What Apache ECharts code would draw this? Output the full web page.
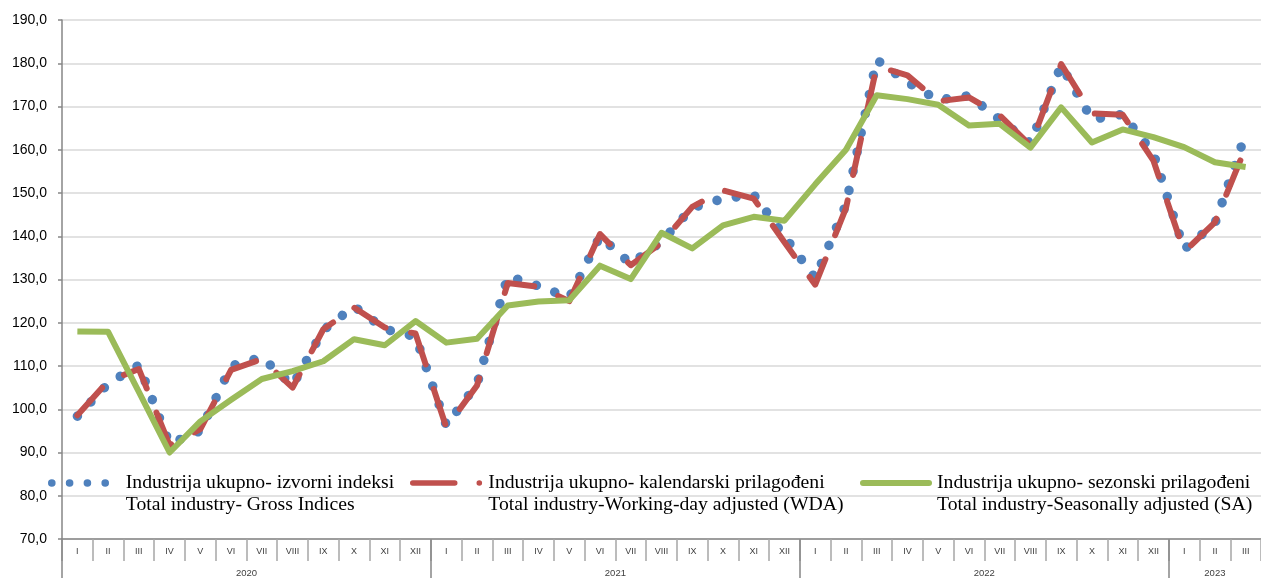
<!DOCTYPE html>
<html>
<head>
<meta charset="utf-8">
<script src="https://cdn.jsdelivr.net/npm/echarts@6/dist/echarts.min.js"></script>
<style>
  html, body { margin: 0; padding: 0; background: #fff; }
  #line { width: 1261px; height: 578px; }
</style>
</head>
<body>
<div id="line"></div>
<script>
// mjeseci 2020 I - 2023 III
const months = ['I','II','III','IV','V','VI','VII','VIII','IX','X','XI','XII',
  'I','II','III','IV','V','VI','VII','VIII','IX','X','XI','XII',
  'I','II','III','IV','V','VI','VII','VIII','IX','X','XI','XII',
  'I','II','III']
const years = ['2020', '2021', '2022', '2023']
const yearStart = [0, 12, 24, 36]       // indeks prvog mjeseca u godini
const yearMid = [6, 18, 30, 37.5]       // sredina godine na osi

const gross = [98.4, 105.9, 110.2, 92.0, 95.0, 110.0, 112.0, 105.5, 118.3, 123.8, 118.5, 116.8,
  96.3, 105.8, 130.8, 128.5, 125.8, 140.0, 133.6, 138.8, 146.6, 148.7, 149.6, 140.0,
  130.3, 147.3, 180.8, 175.6, 171.5, 172.5, 167.0, 161.5, 179.5, 167.0, 168.2, 159.2,
  137.0, 142.9, 163.7]
const wda = [98.6, 106.5, 109.3, 91.7, 95.4, 109.1, 111.6, 105.0, 118.5, 123.5, 118.9, 117.5,
  95.8, 105.5, 129.2, 128.3, 125.0, 140.5, 133.3, 138.5, 146.8, 150.6, 148.7, 138.6,
  128.8, 146.5, 179.3, 177.2, 171.2, 172.1, 168.0, 161.0, 179.8, 168.4, 168.1, 157.5,
  136.4, 143.2, 160.5]
const sa = [118.0, 117.9, 104.0, 90.0, 97.2, 102.2, 107.0, 108.8, 111.1, 116.2, 114.8, 120.4,
  115.4, 116.3, 124.0, 124.9, 125.2, 133.2, 130.1, 140.8, 137.2, 142.5, 144.5, 143.6,
  152.0, 160.0, 172.6, 171.7, 170.4, 165.6, 166.0, 160.5, 169.8, 161.7, 164.7, 162.9,
  160.6, 157.1, 156.0]

const names = [
  'Industrija ukupno- izvorni indeksi\nTotal industry- Gross Indices',
  'Industrija ukupno- kalendarski prilagođeni\nTotal industry-Working-day adjusted (WDA)',
  'Industrija ukupno- sezonski prilagođeni\nTotal industry-Seasonally adjusted (SA)'
]

const legendTop = 450

function legendText(padLeft) {
  return {
    fontFamily: 'Liberation Serif',
    fontSize: 19.7,
    lineHeight: 22,
    color: '#000',
    padding: [0, 0, 0, padLeft]
  }
}

// prazan red na vrhu da ikona stoji uz prvi red teksta
function legendName(name) {
  return '\n' + name
}

const option = {
  animation: false,
  grid: { left: 62, top: 20, width: 1209, height: 520 },
  legend: [
    {
      left: 48, top: legendTop, padding: 0, itemWidth: 54, itemHeight: 10,
      formatter: legendName,
      data: [{ name: names[0], itemStyle: { opacity: 0 }, lineStyle: { width: 7.5, type: [0.1, 17.7], cap: 'round' } }],
      textStyle: legendText(15)
    },
    {
      left: 410, top: legendTop, padding: 0, itemWidth: 66.6, itemHeight: 10,
      formatter: legendName,
      data: [{ name: names[1], itemStyle: { opacity: 0 }, lineStyle: { width: 5.5, type: [42, 24.5, 0.1, 50], cap: 'round' } }],
      textStyle: legendText(4)
    },
    {
      left: 860, top: legendTop, padding: 0, itemWidth: 66, itemHeight: 10,
      formatter: legendName,
      data: [{ name: names[2], itemStyle: { opacity: 0 }, lineStyle: { width: 6, type: 'solid', cap: 'round' } }],
      textStyle: legendText(3)
    }
  ],
  xAxis: [
    {
      type: 'category',
      data: months,
      boundaryGap: true,
      position: 'bottom',
      axisLine: { lineStyle: { color: '#868686', width: 1.5 } },
      axisTick: { show: true, interval: 0, length: 22, lineStyle: { color: '#a6a6a6', width: 1.5 } },
      axisLabel: { interval: 0, margin: 8, fontSize: 9, color: '#404040', fontFamily: 'Liberation Sans' }
    },
    {
      type: 'value',
      min: 0,
      max: 39,
      position: 'bottom',
      axisLine: { show: false },
      splitLine: { show: false },
      axisTick: { show: true, length: 40, customValues: yearStart, lineStyle: { color: '#868686', width: 1.5 } },
      axisLabel: {
        customValues: yearMid,
        margin: 29,
        fontSize: 9.5,
        color: '#404040',
        fontFamily: 'Liberation Sans',
        formatter: function (value) {
          return years[yearMid.indexOf(value)]
        }
      }
    }
  ],
  yAxis: {
    type: 'value',
    min: 70,
    max: 190,
    interval: 10,
    axisLine: { show: true, lineStyle: { color: '#868686', width: 1.5 } },
    axisTick: { show: true, length: 4, lineStyle: { color: '#868686', width: 1.5 } },
    axisLabel: {
      margin: 15,
      fontSize: 14,
      color: '#000',
      fontFamily: 'Liberation Sans',
      formatter: function (value) {
        return value.toFixed(1).replace('.', ',')
      }
    },
    splitLine: { lineStyle: { color: '#d9d9d9', width: 1.5 } }
  },
  series: [
    {
      name: names[0],
      type: 'line',
      data: gross,
      symbol: 'none',
      lineStyle: { color: '#4F81BD', width: 9.5, type: [0.1, 19.5], cap: 'round', join: 'round' },
      itemStyle: { color: '#4F81BD' },
      z: 2
    },
    {
      name: names[1],
      type: 'line',
      data: wda,
      symbol: 'none',
      lineStyle: { color: '#C0504D', width: 6, type: [37, 26], cap: 'round', join: 'round' },
      itemStyle: { color: '#C0504D' },
      z: 3
    },
    {
      name: names[2],
      type: 'line',
      data: sa,
      symbol: 'none',
      lineStyle: { color: '#9BBB59', width: 6, cap: 'butt', join: 'round' },
      itemStyle: { color: '#9BBB59' },
      z: 4
    }
  ]
}

const lineBox = echarts.init(document.getElementById('line'))
lineBox.setOption(option)
</script>
</body>
</html>
